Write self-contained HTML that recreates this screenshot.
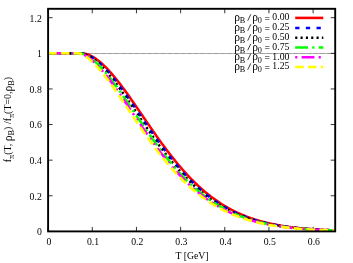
<!DOCTYPE html>
<html><head><meta charset="utf-8"><title>plot</title>
<style>
html,body{margin:0;padding:0;background:#fff;}
body{width:353px;height:263px;overflow:hidden;position:relative;font-family:"Liberation Serif",serif;}
svg{position:absolute;left:0;top:0;display:block;}
</style></head><body>
<svg width="353" height="263" viewBox="0 0 353 263">
<rect x="0" y="0" width="353" height="263" fill="#ffffff"/>
<line x1="48.1" y1="53.5" x2="335.2" y2="53.5" stroke="#bdbdbd" stroke-width="1"/>
<line x1="48.1" y1="53.5" x2="335.2" y2="53.5" stroke="#9e9e9e" stroke-width="1" stroke-dasharray="5.43 1.2" stroke-dashoffset="0.4"/>
<path d="M48.10,231.4 v-4.5 M48.10,8.8 v4.5 M92.27,231.4 v-4.5 M92.27,8.8 v4.5 M136.44,231.4 v-4.5 M136.44,8.8 v4.5 M180.61,231.4 v-4.5 M180.61,8.8 v4.5 M224.78,231.4 v-4.5 M224.78,8.8 v4.5 M268.95,231.4 v-4.5 M268.95,8.8 v4.5 M313.12,231.4 v-4.5 M313.12,8.8 v4.5 M48.1,231.40 h4.5 M335.2,231.40 h-4.5 M48.1,195.78 h4.5 M335.2,195.78 h-4.5 M48.1,160.17 h4.5 M335.2,160.17 h-4.5 M48.1,124.55 h4.5 M335.2,124.55 h-4.5 M48.1,88.94 h4.5 M335.2,88.94 h-4.5 M48.1,53.32 h4.5 M335.2,53.32 h-4.5 M48.1,17.70 h4.5 M335.2,17.70 h-4.5" stroke="#000" stroke-width="0.8" fill="none"/>
<path d="M48.10,53.32 L48.82,53.32 L49.54,53.32 L50.26,53.32 L50.98,53.32 L51.70,53.32 L52.42,53.32 L53.14,53.32 L53.86,53.32 L54.58,53.32 L55.30,53.32 L56.02,53.32 L56.73,53.32 L57.45,53.32 L58.17,53.32 L58.89,53.32 L59.61,53.32 L60.33,53.32 L61.05,53.32 L61.77,53.32 L62.49,53.32 L63.21,53.32 L63.93,53.32 L64.65,53.32 L65.37,53.32 L66.09,53.32 L66.81,53.32 L67.53,53.32 L68.25,53.32 L68.97,53.32 L69.69,53.32 L70.41,53.32 L71.13,53.32 L71.85,53.32 L72.56,53.32 L73.28,53.32 L74.00,53.32 L74.72,53.32 L75.44,53.32 L76.16,53.32 L76.88,53.32 L77.60,53.32 L78.32,53.32 L79.04,53.32 L79.76,53.32 L80.48,53.32 L81.20,53.32 L81.92,53.32 L82.64,53.36 L83.36,53.43 L84.08,53.54 L84.80,53.68 L85.52,53.84 L86.24,54.03 L86.96,54.25 L87.68,54.49 L88.39,54.76 L89.11,55.05 L89.83,55.36 L90.55,55.70 L91.27,56.06 L91.99,56.44 L92.71,56.84 L93.43,57.26 L94.15,57.70 L94.87,58.17 L95.59,58.65 L96.31,59.15 L97.03,59.67 L97.75,60.21 L98.47,60.76 L99.19,61.34 L99.91,61.93 L100.63,62.53 L101.35,63.16 L102.07,63.80 L102.79,64.45 L103.51,65.13 L104.22,65.81 L104.94,66.51 L105.66,67.23 L106.38,67.96 L107.10,68.70 L107.82,69.46 L108.54,70.23 L109.26,71.01 L109.98,71.81 L110.70,72.62 L111.42,73.43 L112.14,74.26 L112.86,75.11 L113.58,75.96 L114.30,76.82 L115.02,77.70 L115.74,78.58 L116.46,79.47 L117.18,80.37 L117.90,81.28 L118.62,82.20 L119.34,83.13 L120.05,84.07 L120.77,85.01 L121.49,85.96 L122.21,86.92 L122.93,87.89 L123.65,88.86 L124.37,89.84 L125.09,90.82 L125.81,91.82 L126.53,92.81 L127.25,93.81 L127.97,94.82 L128.69,95.83 L129.41,96.84 L130.13,97.86 L130.85,98.89 L131.57,99.92 L132.29,100.95 L133.01,101.98 L133.73,103.02 L134.45,104.06 L135.17,105.10 L135.88,106.14 L136.60,107.19 L137.32,108.23 L138.04,109.28 L138.76,110.33 L139.48,111.38 L140.20,112.44 L140.92,113.49 L141.64,114.54 L142.36,115.59 L143.08,116.65 L143.80,117.70 L144.52,118.75 L145.24,119.80 L145.96,120.85 L146.68,121.90 L147.40,122.95 L148.12,124.00 L148.84,125.04 L149.56,126.09 L150.28,127.13 L151.00,128.17 L151.72,129.21 L152.43,130.24 L153.15,131.27 L153.87,132.30 L154.59,133.33 L155.31,134.35 L156.03,135.37 L156.75,136.39 L157.47,137.40 L158.19,138.41 L158.91,139.41 L159.63,140.41 L160.35,141.41 L161.07,142.40 L161.79,143.39 L162.51,144.38 L163.23,145.35 L163.95,146.33 L164.67,147.30 L165.39,148.26 L166.11,149.22 L166.83,150.18 L167.55,151.13 L168.26,152.07 L168.98,153.01 L169.70,153.94 L170.42,154.87 L171.14,155.79 L171.86,156.71 L172.58,157.62 L173.30,158.53 L174.02,159.42 L174.74,160.32 L175.46,161.20 L176.18,162.08 L176.90,162.96 L177.62,163.82 L178.34,164.69 L179.06,165.54 L179.78,166.39 L180.50,167.23 L181.22,168.07 L181.94,168.90 L182.66,169.72 L183.38,170.53 L184.09,171.34 L184.81,172.14 L185.53,172.94 L186.25,173.73 L186.97,174.51 L187.69,175.28 L188.41,176.05 L189.13,176.81 L189.85,177.57 L190.57,178.32 L191.29,179.06 L192.01,179.79 L192.73,180.52 L193.45,181.24 L194.17,181.95 L194.89,182.65 L195.61,183.35 L196.33,184.04 L197.05,184.73 L197.77,185.41 L198.49,186.08 L199.21,186.74 L199.92,187.40 L200.64,188.05 L201.36,188.69 L202.08,189.33 L202.80,189.96 L203.52,190.58 L204.24,191.20 L204.96,191.81 L205.68,192.41 L206.40,193.00 L207.12,193.59 L207.84,194.17 L208.56,194.75 L209.28,195.32 L210.00,195.88 L210.72,196.44 L211.44,196.98 L212.16,197.53 L212.88,198.06 L213.60,198.59 L214.32,199.11 L215.04,199.63 L215.75,200.14 L216.47,200.64 L217.19,201.14 L217.91,201.63 L218.63,202.12 L219.35,202.59 L220.07,203.07 L220.79,203.53 L221.51,203.99 L222.23,204.45 L222.95,204.90 L223.67,205.34 L224.39,205.77 L225.11,206.20 L225.83,206.63 L226.55,207.05 L227.27,207.46 L227.99,207.87 L228.71,208.27 L229.43,208.67 L230.15,209.06 L230.87,209.44 L231.58,209.82 L232.30,210.20 L233.02,210.57 L233.74,210.93 L234.46,211.29 L235.18,211.64 L235.90,211.99 L236.62,212.33 L237.34,212.67 L238.06,213.01 L238.78,213.33 L239.50,213.66 L240.22,213.98 L240.94,214.29 L241.66,214.60 L242.38,214.90 L243.10,215.20 L243.82,215.50 L244.54,215.79 L245.26,216.07 L245.98,216.36 L246.70,216.63 L247.42,216.91 L248.13,217.17 L248.85,217.44 L249.57,217.70 L250.29,217.95 L251.01,218.21 L251.73,218.45 L252.45,218.70 L253.17,218.94 L253.89,219.17 L254.61,219.41 L255.33,219.63 L256.05,219.86 L256.77,220.08 L257.49,220.30 L258.21,220.51 L258.93,220.72 L259.65,220.93 L260.37,221.13 L261.09,221.33 L261.81,221.53 L262.53,221.72 L263.25,221.91 L263.96,222.10 L264.68,222.28 L265.40,222.46 L266.12,222.63 L266.84,222.81 L267.56,222.98 L268.28,223.15 L269.00,223.31 L269.72,223.47 L270.44,223.63 L271.16,223.79 L271.88,223.94 L272.60,224.09 L273.32,224.24 L274.04,224.39 L274.76,224.53 L275.48,224.67 L276.20,224.81 L276.92,224.94 L277.64,225.07 L278.36,225.20 L279.08,225.33 L279.79,225.46 L280.51,225.58 L281.23,225.70 L281.95,225.82 L282.67,225.94 L283.39,226.05 L284.11,226.16 L284.83,226.27 L285.55,226.38 L286.27,226.49 L286.99,226.59 L287.71,226.69 L288.43,226.79 L289.15,226.89 L289.87,226.98 L290.59,227.08 L291.31,227.17 L292.03,227.26 L292.75,227.35 L293.47,227.44 L294.19,227.52 L294.91,227.61 L295.62,227.69 L296.34,227.77 L297.06,227.85 L297.78,227.93 L298.50,228.00 L299.22,228.08 L299.94,228.15 L300.66,228.22 L301.38,228.29 L302.10,228.36 L302.82,228.42 L303.54,228.49 L304.26,228.55 L304.98,228.62 L305.70,228.68 L306.42,228.74 L307.14,228.80 L307.86,228.86 L308.58,228.91 L309.30,228.97 L310.02,229.02 L310.74,229.08 L311.45,229.13 L312.17,229.18 L312.89,229.23 L313.61,229.28 L314.33,229.33 L315.05,229.38 L315.77,229.42 L316.49,229.47 L317.21,229.51 L317.93,229.55 L318.65,229.60 L319.37,229.64 L320.09,229.68 L320.81,229.72 L321.53,229.76 L322.25,229.80 L322.97,229.83 L323.69,229.87 L324.41,229.90 L325.13,229.94 L325.85,229.97 L326.57,230.01 L327.28,230.04 L328.00,230.07 L328.72,230.10 L329.44,230.13 L330.16,230.16 L330.88,230.19 L331.60,230.22 L332.32,230.25 L333.04,230.28 L333.76,230.30 L334.48,230.33 L335.20,230.35" stroke="#ff0000" stroke-width="2.55" fill="none"/>
<path d="M48.10,53.32 L48.82,53.32 L49.54,53.32 L50.26,53.32 L50.98,53.32 L51.70,53.32 L52.42,53.32 L53.14,53.32 L53.86,53.32 L54.58,53.32 L55.30,53.32 L56.02,53.32 L56.73,53.32 L57.45,53.32 L58.17,53.32 L58.89,53.32 L59.61,53.32 L60.33,53.32 L61.05,53.32 L61.77,53.32 L62.49,53.32 L63.21,53.32 L63.93,53.32 L64.65,53.32 L65.37,53.32 L66.09,53.32 L66.81,53.32 L67.53,53.32 L68.25,53.32 L68.97,53.32 L69.69,53.32 L70.41,53.32 L71.13,53.32 L71.85,53.32 L72.56,53.32 L73.28,53.32 L74.00,53.32 L74.72,53.32 L75.44,53.32 L76.16,53.32 L76.88,53.32 L77.60,53.32 L78.32,53.32 L79.04,53.32 L79.76,53.32 L80.48,53.32 L81.20,53.32 L81.92,53.37 L82.64,53.45 L83.36,53.57 L84.08,53.73 L84.80,53.91 L85.52,54.12 L86.24,54.36 L86.96,54.63 L87.68,54.92 L88.39,55.24 L89.11,55.58 L89.83,55.94 L90.55,56.33 L91.27,56.74 L91.99,57.17 L92.71,57.63 L93.43,58.10 L94.15,58.60 L94.87,59.11 L95.59,59.64 L96.31,60.20 L97.03,60.77 L97.75,61.36 L98.47,61.96 L99.19,62.59 L99.91,63.23 L100.63,63.88 L101.35,64.56 L102.07,65.25 L102.79,65.95 L103.51,66.67 L104.22,67.40 L104.94,68.15 L105.66,68.91 L106.38,69.69 L107.10,70.47 L107.82,71.27 L108.54,72.09 L109.26,72.91 L109.98,73.75 L110.70,74.60 L111.42,75.45 L112.14,76.32 L112.86,77.20 L113.58,78.09 L114.30,78.99 L115.02,79.90 L115.74,80.82 L116.46,81.75 L117.18,82.68 L117.90,83.62 L118.62,84.57 L119.34,85.53 L120.05,86.50 L120.77,87.47 L121.49,88.45 L122.21,89.44 L122.93,90.43 L123.65,91.42 L124.37,92.43 L125.09,93.43 L125.81,94.45 L126.53,95.46 L127.25,96.49 L127.97,97.51 L128.69,98.54 L129.41,99.57 L130.13,100.61 L130.85,101.65 L131.57,102.69 L132.29,103.74 L133.01,104.78 L133.73,105.83 L134.45,106.88 L135.17,107.93 L135.88,108.99 L136.60,110.04 L137.32,111.10 L138.04,112.15 L138.76,113.21 L139.48,114.27 L140.20,115.32 L140.92,116.38 L141.64,117.44 L142.36,118.49 L143.08,119.55 L143.80,120.60 L144.52,121.65 L145.24,122.71 L145.96,123.76 L146.68,124.80 L147.40,125.85 L148.12,126.89 L148.84,127.94 L149.56,128.97 L150.28,130.01 L151.00,131.04 L151.72,132.08 L152.43,133.10 L153.15,134.13 L153.87,135.15 L154.59,136.17 L155.31,137.18 L156.03,138.19 L156.75,139.20 L157.47,140.20 L158.19,141.20 L158.91,142.19 L159.63,143.18 L160.35,144.16 L161.07,145.14 L161.79,146.12 L162.51,147.09 L163.23,148.06 L163.95,149.02 L164.67,149.97 L165.39,150.92 L166.11,151.86 L166.83,152.80 L167.55,153.74 L168.26,154.66 L168.98,155.59 L169.70,156.50 L170.42,157.41 L171.14,158.32 L171.86,159.21 L172.58,160.11 L173.30,160.99 L174.02,161.87 L174.74,162.75 L175.46,163.61 L176.18,164.47 L176.90,165.33 L177.62,166.18 L178.34,167.02 L179.06,167.85 L179.78,168.68 L180.50,169.50 L181.22,170.32 L181.94,171.13 L182.66,171.93 L183.38,172.72 L184.09,173.51 L184.81,174.29 L185.53,175.07 L186.25,175.83 L186.97,176.59 L187.69,177.35 L188.41,178.09 L189.13,178.83 L189.85,179.57 L190.57,180.29 L191.29,181.01 L192.01,181.72 L192.73,182.43 L193.45,183.13 L194.17,183.82 L194.89,184.50 L195.61,185.18 L196.33,185.85 L197.05,186.52 L197.77,187.17 L198.49,187.82 L199.21,188.47 L199.92,189.10 L200.64,189.73 L201.36,190.35 L202.08,190.97 L202.80,191.58 L203.52,192.18 L204.24,192.78 L204.96,193.36 L205.68,193.95 L206.40,194.52 L207.12,195.09 L207.84,195.65 L208.56,196.21 L209.28,196.76 L210.00,197.30 L210.72,197.84 L211.44,198.36 L212.16,198.89 L212.88,199.40 L213.60,199.91 L214.32,200.42 L215.04,200.92 L215.75,201.41 L216.47,201.89 L217.19,202.37 L217.91,202.84 L218.63,203.31 L219.35,203.77 L220.07,204.23 L220.79,204.68 L221.51,205.12 L222.23,205.56 L222.95,205.99 L223.67,206.41 L224.39,206.83 L225.11,207.25 L225.83,207.66 L226.55,208.06 L227.27,208.46 L227.99,208.85 L228.71,209.23 L229.43,209.61 L230.15,209.99 L230.87,210.36 L231.58,210.73 L232.30,211.09 L233.02,211.44 L233.74,211.79 L234.46,212.13 L235.18,212.47 L235.90,212.81 L236.62,213.14 L237.34,213.46 L238.06,213.78 L238.78,214.10 L239.50,214.41 L240.22,214.71 L240.94,215.01 L241.66,215.31 L242.38,215.60 L243.10,215.89 L243.82,216.17 L244.54,216.45 L245.26,216.73 L245.98,217.00 L246.70,217.26 L247.42,217.52 L248.13,217.78 L248.85,218.03 L249.57,218.28 L250.29,218.53 L251.01,218.77 L251.73,219.01 L252.45,219.24 L253.17,219.47 L253.89,219.70 L254.61,219.92 L255.33,220.14 L256.05,220.35 L256.77,220.57 L257.49,220.77 L258.21,220.98 L258.93,221.18 L259.65,221.38 L260.37,221.57 L261.09,221.76 L261.81,221.95 L262.53,222.14 L263.25,222.32 L263.96,222.50 L264.68,222.67 L265.40,222.84 L266.12,223.01 L266.84,223.18 L267.56,223.34 L268.28,223.50 L269.00,223.66 L269.72,223.82 L270.44,223.97 L271.16,224.12 L271.88,224.26 L272.60,224.41 L273.32,224.55 L274.04,224.69 L274.76,224.83 L275.48,224.96 L276.20,225.09 L276.92,225.22 L277.64,225.35 L278.36,225.47 L279.08,225.59 L279.79,225.71 L280.51,225.83 L281.23,225.95 L281.95,226.06 L282.67,226.17 L283.39,226.28 L284.11,226.39 L284.83,226.49 L285.55,226.60 L286.27,226.70 L286.99,226.80 L287.71,226.90 L288.43,226.99 L289.15,227.08 L289.87,227.18 L290.59,227.27 L291.31,227.35 L292.03,227.44 L292.75,227.53 L293.47,227.61 L294.19,227.69 L294.91,227.77 L295.62,227.85 L296.34,227.93 L297.06,228.00 L297.78,228.08 L298.50,228.15 L299.22,228.22 L299.94,228.29 L300.66,228.36 L301.38,228.42 L302.10,228.49 L302.82,228.55 L303.54,228.62 L304.26,228.68 L304.98,228.74 L305.70,228.80 L306.42,228.86 L307.14,228.91 L307.86,228.97 L308.58,229.02 L309.30,229.08 L310.02,229.13 L310.74,229.18 L311.45,229.23 L312.17,229.28 L312.89,229.33 L313.61,229.37 L314.33,229.42 L315.05,229.46 L315.77,229.51 L316.49,229.55 L317.21,229.59 L317.93,229.64 L318.65,229.68 L319.37,229.72 L320.09,229.75 L320.81,229.79 L321.53,229.83 L322.25,229.87 L322.97,229.90 L323.69,229.94 L324.41,229.97 L325.13,230.00 L325.85,230.04 L326.57,230.07 L327.28,230.10 L328.00,230.13 L328.72,230.16 L329.44,230.19 L330.16,230.22 L330.88,230.25 L331.60,230.27 L332.32,230.30 L333.04,230.33 L333.76,230.35 L334.48,230.38 L335.20,230.40" stroke="#0000ff" stroke-width="2.55" fill="none" stroke-dasharray="4.27 6.4"/>
<path d="M48.10,53.32 L48.82,53.32 L49.54,53.32 L50.26,53.32 L50.98,53.32 L51.70,53.32 L52.42,53.32 L53.14,53.32 L53.86,53.32 L54.58,53.32 L55.30,53.32 L56.02,53.32 L56.73,53.32 L57.45,53.32 L58.17,53.32 L58.89,53.32 L59.61,53.32 L60.33,53.32 L61.05,53.32 L61.77,53.32 L62.49,53.32 L63.21,53.32 L63.93,53.32 L64.65,53.32 L65.37,53.32 L66.09,53.32 L66.81,53.32 L67.53,53.32 L68.25,53.32 L68.97,53.32 L69.69,53.32 L70.41,53.32 L71.13,53.32 L71.85,53.32 L72.56,53.32 L73.28,53.32 L74.00,53.32 L74.72,53.32 L75.44,53.32 L76.16,53.32 L76.88,53.32 L77.60,53.32 L78.32,53.32 L79.04,53.32 L79.76,53.32 L80.48,53.32 L81.20,53.38 L81.92,53.48 L82.64,53.61 L83.36,53.78 L84.08,53.99 L84.80,54.23 L85.52,54.49 L86.24,54.78 L86.96,55.11 L87.68,55.45 L88.39,55.82 L89.11,56.22 L89.83,56.64 L90.55,57.08 L91.27,57.55 L91.99,58.03 L92.71,58.54 L93.43,59.07 L94.15,59.62 L94.87,60.19 L95.59,60.77 L96.31,61.38 L97.03,62.00 L97.75,62.64 L98.47,63.30 L99.19,63.98 L99.91,64.67 L100.63,65.37 L101.35,66.10 L102.07,66.83 L102.79,67.58 L103.51,68.35 L104.22,69.13 L104.94,69.92 L105.66,70.73 L106.38,71.55 L107.10,72.38 L107.82,73.22 L108.54,74.07 L109.26,74.94 L109.98,75.81 L110.70,76.70 L111.42,77.60 L112.14,78.50 L112.86,79.42 L113.58,80.34 L114.30,81.28 L115.02,82.22 L115.74,83.17 L116.46,84.13 L117.18,85.09 L117.90,86.07 L118.62,87.05 L119.34,88.03 L120.05,89.02 L120.77,90.02 L121.49,91.03 L122.21,92.04 L122.93,93.05 L123.65,94.07 L124.37,95.09 L125.09,96.12 L125.81,97.15 L126.53,98.19 L127.25,99.23 L127.97,100.27 L128.69,101.31 L129.41,102.36 L130.13,103.41 L130.85,104.46 L131.57,105.52 L132.29,106.57 L133.01,107.63 L133.73,108.69 L134.45,109.75 L135.17,110.81 L135.88,111.87 L136.60,112.93 L137.32,113.99 L138.04,115.05 L138.76,116.11 L139.48,117.17 L140.20,118.23 L140.92,119.29 L141.64,120.35 L142.36,121.40 L143.08,122.46 L143.80,123.51 L144.52,124.56 L145.24,125.61 L145.96,126.66 L146.68,127.70 L147.40,128.74 L148.12,129.78 L148.84,130.82 L149.56,131.85 L150.28,132.88 L151.00,133.91 L151.72,134.93 L152.43,135.95 L153.15,136.96 L153.87,137.97 L154.59,138.98 L155.31,139.98 L156.03,140.98 L156.75,141.98 L157.47,142.97 L158.19,143.95 L158.91,144.93 L159.63,145.91 L160.35,146.88 L161.07,147.85 L161.79,148.81 L162.51,149.76 L163.23,150.71 L163.95,151.66 L164.67,152.59 L165.39,153.53 L166.11,154.46 L166.83,155.38 L167.55,156.29 L168.26,157.20 L168.98,158.11 L169.70,159.01 L170.42,159.90 L171.14,160.78 L171.86,161.66 L172.58,162.54 L173.30,163.40 L174.02,164.26 L174.74,165.12 L175.46,165.96 L176.18,166.81 L176.90,167.64 L177.62,168.47 L178.34,169.29 L179.06,170.10 L179.78,170.91 L180.50,171.71 L181.22,172.51 L181.94,173.29 L182.66,174.07 L183.38,174.85 L184.09,175.61 L184.81,176.37 L185.53,177.13 L186.25,177.87 L186.97,178.61 L187.69,179.35 L188.41,180.07 L189.13,180.79 L189.85,181.50 L190.57,182.21 L191.29,182.90 L192.01,183.60 L192.73,184.28 L193.45,184.96 L194.17,185.63 L194.89,186.29 L195.61,186.95 L196.33,187.60 L197.05,188.24 L197.77,188.88 L198.49,189.51 L199.21,190.13 L199.92,190.74 L200.64,191.35 L201.36,191.95 L202.08,192.55 L202.80,193.14 L203.52,193.72 L204.24,194.30 L204.96,194.86 L205.68,195.43 L206.40,195.98 L207.12,196.53 L207.84,197.07 L208.56,197.61 L209.28,198.14 L210.00,198.66 L210.72,199.18 L211.44,199.69 L212.16,200.19 L212.88,200.69 L213.60,201.18 L214.32,201.67 L215.04,202.15 L215.75,202.62 L216.47,203.09 L217.19,203.55 L217.91,204.01 L218.63,204.46 L219.35,204.90 L220.07,205.34 L220.79,205.77 L221.51,206.20 L222.23,206.62 L222.95,207.03 L223.67,207.44 L224.39,207.85 L225.11,208.24 L225.83,208.64 L226.55,209.02 L227.27,209.41 L227.99,209.78 L228.71,210.15 L229.43,210.52 L230.15,210.88 L230.87,211.24 L231.58,211.59 L232.30,211.93 L233.02,212.27 L233.74,212.61 L234.46,212.94 L235.18,213.27 L235.90,213.59 L236.62,213.90 L237.34,214.22 L238.06,214.52 L238.78,214.82 L239.50,215.12 L240.22,215.42 L240.94,215.70 L241.66,215.99 L242.38,216.27 L243.10,216.54 L243.82,216.82 L244.54,217.08 L245.26,217.35 L245.98,217.61 L246.70,217.86 L247.42,218.11 L248.13,218.36 L248.85,218.60 L249.57,218.84 L250.29,219.08 L251.01,219.31 L251.73,219.53 L252.45,219.76 L253.17,219.98 L253.89,220.20 L254.61,220.41 L255.33,220.62 L256.05,220.83 L256.77,221.03 L257.49,221.23 L258.21,221.42 L258.93,221.62 L259.65,221.81 L260.37,221.99 L261.09,222.18 L261.81,222.36 L262.53,222.53 L263.25,222.71 L263.96,222.88 L264.68,223.04 L265.40,223.21 L266.12,223.37 L266.84,223.53 L267.56,223.69 L268.28,223.84 L269.00,223.99 L269.72,224.14 L270.44,224.29 L271.16,224.43 L271.88,224.57 L272.60,224.71 L273.32,224.84 L274.04,224.98 L274.76,225.11 L275.48,225.24 L276.20,225.36 L276.92,225.49 L277.64,225.61 L278.36,225.73 L279.08,225.84 L279.79,225.96 L280.51,226.07 L281.23,226.18 L281.95,226.29 L282.67,226.40 L283.39,226.50 L284.11,226.61 L284.83,226.71 L285.55,226.80 L286.27,226.90 L286.99,227.00 L287.71,227.09 L288.43,227.18 L289.15,227.27 L289.87,227.36 L290.59,227.45 L291.31,227.53 L292.03,227.61 L292.75,227.69 L293.47,227.77 L294.19,227.85 L294.91,227.93 L295.62,228.00 L296.34,228.08 L297.06,228.15 L297.78,228.22 L298.50,228.29 L299.22,228.36 L299.94,228.42 L300.66,228.49 L301.38,228.55 L302.10,228.62 L302.82,228.68 L303.54,228.74 L304.26,228.80 L304.98,228.85 L305.70,228.91 L306.42,228.97 L307.14,229.02 L307.86,229.07 L308.58,229.13 L309.30,229.18 L310.02,229.23 L310.74,229.28 L311.45,229.32 L312.17,229.37 L312.89,229.42 L313.61,229.46 L314.33,229.51 L315.05,229.55 L315.77,229.59 L316.49,229.63 L317.21,229.67 L317.93,229.71 L318.65,229.75 L319.37,229.79 L320.09,229.83 L320.81,229.86 L321.53,229.90 L322.25,229.93 L322.97,229.97 L323.69,230.00 L324.41,230.03 L325.13,230.07 L325.85,230.10 L326.57,230.13 L327.28,230.16 L328.00,230.19 L328.72,230.21 L329.44,230.24 L330.16,230.27 L330.88,230.30 L331.60,230.32 L332.32,230.35 L333.04,230.37 L333.76,230.40 L334.48,230.42 L335.20,230.45" stroke="#000000" stroke-width="2.55" fill="none" stroke-dasharray="2.13 3.2"/>
<path d="M48.10,53.32 L48.82,53.32 L49.54,53.32 L50.26,53.32 L50.98,53.32 L51.70,53.32 L52.42,53.32 L53.14,53.32 L53.86,53.32 L54.58,53.32 L55.30,53.32 L56.02,53.32 L56.73,53.32 L57.45,53.32 L58.17,53.32 L58.89,53.32 L59.61,53.32 L60.33,53.32 L61.05,53.32 L61.77,53.32 L62.49,53.32 L63.21,53.32 L63.93,53.32 L64.65,53.32 L65.37,53.32 L66.09,53.32 L66.81,53.32 L67.53,53.32 L68.25,53.32 L68.97,53.32 L69.69,53.32 L70.41,53.32 L71.13,53.32 L71.85,53.32 L72.56,53.32 L73.28,53.32 L74.00,53.32 L74.72,53.32 L75.44,53.32 L76.16,53.32 L76.88,53.32 L77.60,53.32 L78.32,53.32 L79.04,53.32 L79.76,53.33 L80.48,53.39 L81.20,53.50 L81.92,53.66 L82.64,53.86 L83.36,54.09 L84.08,54.35 L84.80,54.64 L85.52,54.97 L86.24,55.32 L86.96,55.70 L87.68,56.10 L88.39,56.53 L89.11,56.99 L89.83,57.46 L90.55,57.96 L91.27,58.48 L91.99,59.03 L92.71,59.59 L93.43,60.18 L94.15,60.78 L94.87,61.40 L95.59,62.04 L96.31,62.70 L97.03,63.38 L97.75,64.07 L98.47,64.78 L99.19,65.51 L99.91,66.25 L100.63,67.00 L101.35,67.77 L102.07,68.56 L102.79,69.36 L103.51,70.17 L104.22,70.99 L104.94,71.83 L105.66,72.68 L106.38,73.54 L107.10,74.41 L107.82,75.29 L108.54,76.19 L109.26,77.09 L109.98,78.00 L110.70,78.93 L111.42,79.86 L112.14,80.80 L112.86,81.75 L113.58,82.71 L114.30,83.67 L115.02,84.65 L115.74,85.63 L116.46,86.61 L117.18,87.61 L117.90,88.61 L118.62,89.61 L119.34,90.62 L120.05,91.64 L120.77,92.66 L121.49,93.69 L122.21,94.72 L122.93,95.75 L123.65,96.79 L124.37,97.83 L125.09,98.88 L125.81,99.93 L126.53,100.98 L127.25,102.03 L127.97,103.09 L128.69,104.14 L129.41,105.20 L130.13,106.26 L130.85,107.33 L131.57,108.39 L132.29,109.45 L133.01,110.52 L133.73,111.58 L134.45,112.65 L135.17,113.71 L135.88,114.78 L136.60,115.84 L137.32,116.91 L138.04,117.97 L138.76,119.03 L139.48,120.09 L140.20,121.15 L140.92,122.21 L141.64,123.27 L142.36,124.32 L143.08,125.37 L143.80,126.42 L144.52,127.47 L145.24,128.51 L145.96,129.55 L146.68,130.59 L147.40,131.62 L148.12,132.65 L148.84,133.68 L149.56,134.71 L150.28,135.73 L151.00,136.74 L151.72,137.76 L152.43,138.77 L153.15,139.77 L153.87,140.77 L154.59,141.76 L155.31,142.76 L156.03,143.74 L156.75,144.72 L157.47,145.70 L158.19,146.67 L158.91,147.64 L159.63,148.60 L160.35,149.55 L161.07,150.50 L161.79,151.45 L162.51,152.39 L163.23,153.32 L163.95,154.25 L164.67,155.17 L165.39,156.09 L166.11,157.00 L166.83,157.90 L167.55,158.80 L168.26,159.69 L168.98,160.57 L169.70,161.45 L170.42,162.33 L171.14,163.19 L171.86,164.05 L172.58,164.91 L173.30,165.75 L174.02,166.59 L174.74,167.43 L175.46,168.25 L176.18,169.08 L176.90,169.89 L177.62,170.70 L178.34,171.50 L179.06,172.29 L179.78,173.08 L180.50,173.86 L181.22,174.63 L181.94,175.40 L182.66,176.16 L183.38,176.91 L184.09,177.66 L184.81,178.39 L185.53,179.13 L186.25,179.85 L186.97,180.57 L187.69,181.28 L188.41,181.99 L189.13,182.68 L189.85,183.37 L190.57,184.06 L191.29,184.73 L192.01,185.40 L192.73,186.07 L193.45,186.72 L194.17,187.37 L194.89,188.02 L195.61,188.65 L196.33,189.28 L197.05,189.90 L197.77,190.52 L198.49,191.13 L199.21,191.73 L199.92,192.32 L200.64,192.91 L201.36,193.49 L202.08,194.07 L202.80,194.64 L203.52,195.20 L204.24,195.76 L204.96,196.31 L205.68,196.85 L206.40,197.38 L207.12,197.91 L207.84,198.44 L208.56,198.96 L209.28,199.47 L210.00,199.97 L210.72,200.47 L211.44,200.96 L212.16,201.45 L212.88,201.93 L213.60,202.40 L214.32,202.87 L215.04,203.33 L215.75,203.79 L216.47,204.24 L217.19,204.68 L217.91,205.12 L218.63,205.56 L219.35,205.98 L220.07,206.40 L220.79,206.82 L221.51,207.23 L222.23,207.63 L222.95,208.03 L223.67,208.43 L224.39,208.82 L225.11,209.20 L225.83,209.58 L226.55,209.95 L227.27,210.32 L227.99,210.68 L228.71,211.03 L229.43,211.39 L230.15,211.73 L230.87,212.07 L231.58,212.41 L232.30,212.74 L233.02,213.07 L233.74,213.39 L234.46,213.71 L235.18,214.02 L235.90,214.33 L236.62,214.64 L237.34,214.93 L238.06,215.23 L238.78,215.52 L239.50,215.81 L240.22,216.09 L240.94,216.36 L241.66,216.64 L242.38,216.91 L243.10,217.17 L243.82,217.43 L244.54,217.69 L245.26,217.94 L245.98,218.19 L246.70,218.43 L247.42,218.67 L248.13,218.91 L248.85,219.14 L249.57,219.37 L250.29,219.60 L251.01,219.82 L251.73,220.04 L252.45,220.25 L253.17,220.46 L253.89,220.67 L254.61,220.88 L255.33,221.08 L256.05,221.27 L256.77,221.47 L257.49,221.66 L258.21,221.85 L258.93,222.03 L259.65,222.21 L260.37,222.39 L261.09,222.57 L261.81,222.74 L262.53,222.91 L263.25,223.08 L263.96,223.24 L264.68,223.40 L265.40,223.56 L266.12,223.71 L266.84,223.87 L267.56,224.02 L268.28,224.16 L269.00,224.31 L269.72,224.45 L270.44,224.59 L271.16,224.73 L271.88,224.86 L272.60,225.00 L273.32,225.13 L274.04,225.25 L274.76,225.38 L275.48,225.50 L276.20,225.62 L276.92,225.74 L277.64,225.86 L278.36,225.97 L279.08,226.08 L279.79,226.19 L280.51,226.30 L281.23,226.41 L281.95,226.51 L282.67,226.61 L283.39,226.71 L284.11,226.81 L284.83,226.91 L285.55,227.00 L286.27,227.09 L286.99,227.19 L287.71,227.28 L288.43,227.36 L289.15,227.45 L289.87,227.53 L290.59,227.62 L291.31,227.70 L292.03,227.78 L292.75,227.85 L293.47,227.93 L294.19,228.01 L294.91,228.08 L295.62,228.15 L296.34,228.22 L297.06,228.29 L297.78,228.36 L298.50,228.42 L299.22,228.49 L299.94,228.55 L300.66,228.62 L301.38,228.68 L302.10,228.74 L302.82,228.80 L303.54,228.85 L304.26,228.91 L304.98,228.97 L305.70,229.02 L306.42,229.07 L307.14,229.12 L307.86,229.18 L308.58,229.23 L309.30,229.27 L310.02,229.32 L310.74,229.37 L311.45,229.42 L312.17,229.46 L312.89,229.50 L313.61,229.55 L314.33,229.59 L315.05,229.63 L315.77,229.67 L316.49,229.71 L317.21,229.75 L317.93,229.79 L318.65,229.82 L319.37,229.86 L320.09,229.90 L320.81,229.93 L321.53,229.97 L322.25,230.00 L322.97,230.03 L323.69,230.06 L324.41,230.09 L325.13,230.12 L325.85,230.15 L326.57,230.18 L327.28,230.21 L328.00,230.24 L328.72,230.27 L329.44,230.29 L330.16,230.32 L330.88,230.35 L331.60,230.37 L332.32,230.40 L333.04,230.42 L333.76,230.44 L334.48,230.47 L335.20,230.49" stroke="#00ff00" stroke-width="2.55" fill="none" stroke-dasharray="12.8 4.27 2.13 4.27"/>
<path d="M48.10,53.32 L48.82,53.32 L49.54,53.32 L50.26,53.32 L50.98,53.32 L51.70,53.32 L52.42,53.32 L53.14,53.32 L53.86,53.32 L54.58,53.32 L55.30,53.32 L56.02,53.32 L56.73,53.32 L57.45,53.32 L58.17,53.32 L58.89,53.32 L59.61,53.32 L60.33,53.32 L61.05,53.32 L61.77,53.32 L62.49,53.32 L63.21,53.32 L63.93,53.32 L64.65,53.32 L65.37,53.32 L66.09,53.32 L66.81,53.32 L67.53,53.32 L68.25,53.32 L68.97,53.32 L69.69,53.32 L70.41,53.32 L71.13,53.32 L71.85,53.32 L72.56,53.32 L73.28,53.32 L74.00,53.32 L74.72,53.32 L75.44,53.32 L76.16,53.32 L76.88,53.32 L77.60,53.32 L78.32,53.32 L79.04,53.33 L79.76,53.40 L80.48,53.54 L81.20,53.72 L81.92,53.94 L82.64,54.20 L83.36,54.49 L84.08,54.82 L84.80,55.18 L85.52,55.56 L86.24,55.98 L86.96,56.42 L87.68,56.88 L88.39,57.37 L89.11,57.89 L89.83,58.42 L90.55,58.98 L91.27,59.56 L91.99,60.17 L92.71,60.79 L93.43,61.43 L94.15,62.09 L94.87,62.76 L95.59,63.46 L96.31,64.17 L97.03,64.90 L97.75,65.64 L98.47,66.41 L99.19,67.18 L99.91,67.97 L100.63,68.77 L101.35,69.59 L102.07,70.42 L102.79,71.27 L103.51,72.12 L104.22,72.99 L104.94,73.87 L105.66,74.76 L106.38,75.66 L107.10,76.57 L107.82,77.49 L108.54,78.42 L109.26,79.36 L109.98,80.31 L110.70,81.27 L111.42,82.24 L112.14,83.21 L112.86,84.19 L113.58,85.18 L114.30,86.17 L115.02,87.17 L115.74,88.18 L116.46,89.19 L117.18,90.21 L117.90,91.24 L118.62,92.26 L119.34,93.30 L120.05,94.34 L120.77,95.38 L121.49,96.42 L122.21,97.47 L122.93,98.52 L123.65,99.58 L124.37,100.63 L125.09,101.69 L125.81,102.76 L126.53,103.82 L127.25,104.88 L127.97,105.95 L128.69,107.02 L129.41,108.09 L130.13,109.16 L130.85,110.23 L131.57,111.30 L132.29,112.37 L133.01,113.44 L133.73,114.50 L134.45,115.57 L135.17,116.64 L135.88,117.71 L136.60,118.77 L137.32,119.84 L138.04,120.90 L138.76,121.96 L139.48,123.02 L140.20,124.07 L140.92,125.13 L141.64,126.18 L142.36,127.23 L143.08,128.28 L143.80,129.32 L144.52,130.36 L145.24,131.40 L145.96,132.43 L146.68,133.46 L147.40,134.48 L148.12,135.51 L148.84,136.53 L149.56,137.54 L150.28,138.55 L151.00,139.55 L151.72,140.56 L152.43,141.55 L153.15,142.54 L153.87,143.53 L154.59,144.51 L155.31,145.49 L156.03,146.46 L156.75,147.43 L157.47,148.39 L158.19,149.34 L158.91,150.30 L159.63,151.24 L160.35,152.18 L161.07,153.11 L161.79,154.04 L162.51,154.96 L163.23,155.88 L163.95,156.79 L164.67,157.69 L165.39,158.59 L166.11,159.48 L166.83,160.37 L167.55,161.24 L168.26,162.12 L168.98,162.98 L169.70,163.84 L170.42,164.70 L171.14,165.54 L171.86,166.38 L172.58,167.22 L173.30,168.04 L174.02,168.86 L174.74,169.68 L175.46,170.48 L176.18,171.28 L176.90,172.08 L177.62,172.86 L178.34,173.64 L179.06,174.41 L179.78,175.18 L180.50,175.94 L181.22,176.69 L181.94,177.44 L182.66,178.18 L183.38,178.91 L184.09,179.63 L184.81,180.35 L185.53,181.06 L186.25,181.76 L186.97,182.46 L187.69,183.15 L188.41,183.84 L189.13,184.51 L189.85,185.18 L190.57,185.84 L191.29,186.50 L192.01,187.15 L192.73,187.79 L193.45,188.43 L194.17,189.06 L194.89,189.68 L195.61,190.29 L196.33,190.90 L197.05,191.50 L197.77,192.10 L198.49,192.69 L199.21,193.27 L199.92,193.85 L200.64,194.41 L201.36,194.98 L202.08,195.53 L202.80,196.08 L203.52,196.62 L204.24,197.16 L204.96,197.69 L205.68,198.22 L206.40,198.73 L207.12,199.24 L207.84,199.75 L208.56,200.25 L209.28,200.74 L210.00,201.23 L210.72,201.71 L211.44,202.18 L212.16,202.65 L212.88,203.11 L213.60,203.57 L214.32,204.02 L215.04,204.47 L215.75,204.91 L216.47,205.34 L217.19,205.77 L217.91,206.19 L218.63,206.61 L219.35,207.02 L220.07,207.42 L220.79,207.82 L221.51,208.22 L222.23,208.61 L222.95,208.99 L223.67,209.37 L224.39,209.74 L225.11,210.11 L225.83,210.47 L226.55,210.83 L227.27,211.19 L227.99,211.53 L228.71,211.88 L229.43,212.21 L230.15,212.55 L230.87,212.88 L231.58,213.20 L232.30,213.52 L233.02,213.83 L233.74,214.14 L234.46,214.45 L235.18,214.75 L235.90,215.04 L236.62,215.34 L237.34,215.62 L238.06,215.91 L238.78,216.18 L239.50,216.46 L240.22,216.73 L240.94,216.99 L241.66,217.26 L242.38,217.51 L243.10,217.77 L243.82,218.02 L244.54,218.26 L245.26,218.51 L245.98,218.74 L246.70,218.98 L247.42,219.21 L248.13,219.44 L248.85,219.66 L249.57,219.88 L250.29,220.10 L251.01,220.31 L251.73,220.52 L252.45,220.72 L253.17,220.93 L253.89,221.13 L254.61,221.32 L255.33,221.51 L256.05,221.70 L256.77,221.89 L257.49,222.07 L258.21,222.25 L258.93,222.43 L259.65,222.60 L260.37,222.78 L261.09,222.94 L261.81,223.11 L262.53,223.27 L263.25,223.43 L263.96,223.59 L264.68,223.74 L265.40,223.89 L266.12,224.04 L266.84,224.19 L267.56,224.33 L268.28,224.47 L269.00,224.61 L269.72,224.75 L270.44,224.88 L271.16,225.01 L271.88,225.14 L272.60,225.27 L273.32,225.39 L274.04,225.52 L274.76,225.64 L275.48,225.75 L276.20,225.87 L276.92,225.98 L277.64,226.09 L278.36,226.20 L279.08,226.31 L279.79,226.42 L280.51,226.52 L281.23,226.62 L281.95,226.72 L282.67,226.82 L283.39,226.91 L284.11,227.01 L284.83,227.10 L285.55,227.19 L286.27,227.28 L286.99,227.37 L287.71,227.45 L288.43,227.54 L289.15,227.62 L289.87,227.70 L290.59,227.78 L291.31,227.86 L292.03,227.93 L292.75,228.01 L293.47,228.08 L294.19,228.15 L294.91,228.22 L295.62,228.29 L296.34,228.36 L297.06,228.42 L297.78,228.49 L298.50,228.55 L299.22,228.62 L299.94,228.68 L300.66,228.74 L301.38,228.79 L302.10,228.85 L302.82,228.91 L303.54,228.96 L304.26,229.02 L304.98,229.07 L305.70,229.12 L306.42,229.17 L307.14,229.22 L307.86,229.27 L308.58,229.32 L309.30,229.37 L310.02,229.41 L310.74,229.46 L311.45,229.50 L312.17,229.54 L312.89,229.59 L313.61,229.63 L314.33,229.67 L315.05,229.71 L315.77,229.75 L316.49,229.78 L317.21,229.82 L317.93,229.86 L318.65,229.89 L319.37,229.93 L320.09,229.96 L320.81,230.00 L321.53,230.03 L322.25,230.06 L322.97,230.09 L323.69,230.12 L324.41,230.15 L325.13,230.18 L325.85,230.21 L326.57,230.24 L327.28,230.26 L328.00,230.29 L328.72,230.32 L329.44,230.34 L330.16,230.37 L330.88,230.39 L331.60,230.42 L332.32,230.44 L333.04,230.46 L333.76,230.49 L334.48,230.51 L335.20,230.53" stroke="#ff00ff" stroke-width="2.55" fill="none" stroke-dasharray="2.13 4.27 12.8 4.27 2.13 4.27"/>
<path d="M48.10,53.32 L48.82,53.32 L49.54,53.32 L50.26,53.32 L50.98,53.32 L51.70,53.32 L52.42,53.32 L53.14,53.32 L53.86,53.32 L54.58,53.32 L55.30,53.32 L56.02,53.32 L56.73,53.32 L57.45,53.32 L58.17,53.32 L58.89,53.32 L59.61,53.32 L60.33,53.32 L61.05,53.32 L61.77,53.32 L62.49,53.32 L63.21,53.32 L63.93,53.32 L64.65,53.32 L65.37,53.32 L66.09,53.32 L66.81,53.32 L67.53,53.32 L68.25,53.32 L68.97,53.32 L69.69,53.32 L70.41,53.32 L71.13,53.32 L71.85,53.32 L72.56,53.32 L73.28,53.32 L74.00,53.32 L74.72,53.32 L75.44,53.32 L76.16,53.32 L76.88,53.32 L77.60,53.32 L78.32,53.33 L79.04,53.42 L79.76,53.58 L80.48,53.79 L81.20,54.04 L81.92,54.33 L82.64,54.66 L83.36,55.02 L84.08,55.42 L84.80,55.84 L85.52,56.29 L86.24,56.77 L86.96,57.28 L87.68,57.81 L88.39,58.36 L89.11,58.94 L89.83,59.53 L90.55,60.15 L91.27,60.79 L91.99,61.45 L92.71,62.13 L93.43,62.83 L94.15,63.54 L94.87,64.28 L95.59,65.03 L96.31,65.79 L97.03,66.57 L97.75,67.37 L98.47,68.18 L99.19,69.00 L99.91,69.84 L100.63,70.69 L101.35,71.55 L102.07,72.43 L102.79,73.31 L103.51,74.21 L104.22,75.12 L104.94,76.04 L105.66,76.97 L106.38,77.91 L107.10,78.86 L107.82,79.82 L108.54,80.78 L109.26,81.76 L109.98,82.74 L110.70,83.73 L111.42,84.72 L112.14,85.72 L112.86,86.73 L113.58,87.75 L114.30,88.77 L115.02,89.80 L115.74,90.83 L116.46,91.86 L117.18,92.90 L117.90,93.95 L118.62,95.00 L119.34,96.05 L120.05,97.10 L120.77,98.16 L121.49,99.22 L122.21,100.29 L122.93,101.35 L123.65,102.42 L124.37,103.49 L125.09,104.56 L125.81,105.63 L126.53,106.71 L127.25,107.78 L127.97,108.85 L128.69,109.93 L129.41,111.00 L130.13,112.08 L130.85,113.15 L131.57,114.23 L132.29,115.30 L133.01,116.37 L133.73,117.44 L134.45,118.51 L135.17,119.58 L135.88,120.64 L136.60,121.71 L137.32,122.77 L138.04,123.83 L138.76,124.89 L139.48,125.94 L140.20,126.99 L140.92,128.04 L141.64,129.09 L142.36,130.13 L143.08,131.17 L143.80,132.20 L144.52,133.23 L145.24,134.26 L145.96,135.29 L146.68,136.31 L147.40,137.32 L148.12,138.33 L148.84,139.34 L149.56,140.34 L150.28,141.34 L151.00,142.33 L151.72,143.32 L152.43,144.30 L153.15,145.28 L153.87,146.25 L154.59,147.22 L155.31,148.18 L156.03,149.14 L156.75,150.09 L157.47,151.03 L158.19,151.97 L158.91,152.91 L159.63,153.83 L160.35,154.75 L161.07,155.67 L161.79,156.58 L162.51,157.48 L163.23,158.38 L163.95,159.27 L164.67,160.16 L165.39,161.04 L166.11,161.91 L166.83,162.77 L167.55,163.63 L168.26,164.49 L168.98,165.33 L169.70,166.17 L170.42,167.00 L171.14,167.83 L171.86,168.65 L172.58,169.46 L173.30,170.27 L174.02,171.07 L174.74,171.86 L175.46,172.65 L176.18,173.43 L176.90,174.20 L177.62,174.96 L178.34,175.72 L179.06,176.48 L179.78,177.22 L180.50,177.96 L181.22,178.69 L181.94,179.41 L182.66,180.13 L183.38,180.84 L184.09,181.54 L184.81,182.24 L185.53,182.93 L186.25,183.61 L186.97,184.29 L187.69,184.96 L188.41,185.62 L189.13,186.28 L189.85,186.93 L190.57,187.57 L191.29,188.20 L192.01,188.83 L192.73,189.45 L193.45,190.07 L194.17,190.68 L194.89,191.28 L195.61,191.88 L196.33,192.46 L197.05,193.05 L197.77,193.62 L198.49,194.19 L199.21,194.75 L199.92,195.31 L200.64,195.86 L201.36,196.40 L202.08,196.94 L202.80,197.47 L203.52,197.99 L204.24,198.51 L204.96,199.02 L205.68,199.53 L206.40,200.03 L207.12,200.52 L207.84,201.01 L208.56,201.49 L209.28,201.96 L210.00,202.43 L210.72,202.90 L211.44,203.35 L212.16,203.81 L212.88,204.25 L213.60,204.69 L214.32,205.13 L215.04,205.55 L215.75,205.98 L216.47,206.39 L217.19,206.81 L217.91,207.21 L218.63,207.61 L219.35,208.01 L220.07,208.40 L220.79,208.78 L221.51,209.16 L222.23,209.54 L222.95,209.91 L223.67,210.27 L224.39,210.63 L225.11,210.98 L225.83,211.33 L226.55,211.68 L227.27,212.02 L227.99,212.35 L228.71,212.68 L229.43,213.01 L230.15,213.33 L230.87,213.64 L231.58,213.95 L232.30,214.26 L233.02,214.56 L233.74,214.86 L234.46,215.15 L235.18,215.44 L235.90,215.72 L236.62,216.00 L237.34,216.28 L238.06,216.55 L238.78,216.82 L239.50,217.08 L240.22,217.34 L240.94,217.60 L241.66,217.85 L242.38,218.09 L243.10,218.34 L243.82,218.58 L244.54,218.81 L245.26,219.05 L245.98,219.27 L246.70,219.50 L247.42,219.72 L248.13,219.94 L248.85,220.15 L249.57,220.36 L250.29,220.57 L251.01,220.78 L251.73,220.98 L252.45,221.17 L253.17,221.37 L253.89,221.56 L254.61,221.75 L255.33,221.93 L256.05,222.11 L256.77,222.29 L257.49,222.47 L258.21,222.64 L258.93,222.81 L259.65,222.98 L260.37,223.14 L261.09,223.30 L261.81,223.46 L262.53,223.61 L263.25,223.77 L263.96,223.92 L264.68,224.07 L265.40,224.21 L266.12,224.35 L266.84,224.49 L267.56,224.63 L268.28,224.77 L269.00,224.90 L269.72,225.03 L270.44,225.16 L271.16,225.28 L271.88,225.41 L272.60,225.53 L273.32,225.65 L274.04,225.77 L274.76,225.88 L275.48,225.99 L276.20,226.10 L276.92,226.21 L277.64,226.32 L278.36,226.42 L279.08,226.53 L279.79,226.63 L280.51,226.73 L281.23,226.82 L281.95,226.92 L282.67,227.01 L283.39,227.11 L284.11,227.20 L284.83,227.28 L285.55,227.37 L286.27,227.46 L286.99,227.54 L287.71,227.62 L288.43,227.70 L289.15,227.78 L289.87,227.86 L290.59,227.93 L291.31,228.01 L292.03,228.08 L292.75,228.15 L293.47,228.22 L294.19,228.29 L294.91,228.36 L295.62,228.42 L296.34,228.49 L297.06,228.55 L297.78,228.61 L298.50,228.68 L299.22,228.74 L299.94,228.79 L300.66,228.85 L301.38,228.91 L302.10,228.96 L302.82,229.02 L303.54,229.07 L304.26,229.12 L304.98,229.17 L305.70,229.22 L306.42,229.27 L307.14,229.32 L307.86,229.36 L308.58,229.41 L309.30,229.46 L310.02,229.50 L310.74,229.54 L311.45,229.58 L312.17,229.63 L312.89,229.67 L313.61,229.71 L314.33,229.74 L315.05,229.78 L315.77,229.82 L316.49,229.86 L317.21,229.89 L317.93,229.93 L318.65,229.96 L319.37,229.99 L320.09,230.03 L320.81,230.06 L321.53,230.09 L322.25,230.12 L322.97,230.15 L323.69,230.18 L324.41,230.21 L325.13,230.23 L325.85,230.26 L326.57,230.29 L327.28,230.32 L328.00,230.34 L328.72,230.37 L329.44,230.39 L330.16,230.41 L330.88,230.44 L331.60,230.46 L332.32,230.48 L333.04,230.51 L333.76,230.53 L334.48,230.55 L335.20,230.57" stroke="#ffff00" stroke-width="2.55" fill="none" stroke-dasharray="8.53 4.27"/>
<rect x="48.1" y="8.8" width="287.10" height="222.60" fill="none" stroke="#000" stroke-width="1.9"/>
<line x1="295.2" y1="17.9" x2="323.3" y2="17.9" stroke="#ff0000" stroke-width="2.55"/>
<line x1="295.2" y1="27.9" x2="323.3" y2="27.9" stroke="#0000ff" stroke-width="2.55" stroke-dasharray="4.27 6.4"/>
<line x1="295.2" y1="37.8" x2="323.3" y2="37.8" stroke="#000000" stroke-width="2.55" stroke-dasharray="2.13 3.2"/>
<line x1="295.2" y1="47.4" x2="323.3" y2="47.4" stroke="#00ff00" stroke-width="2.55" stroke-dasharray="12.8 4.27 2.13 4.27"/>
<line x1="295.2" y1="57.2" x2="323.3" y2="57.2" stroke="#ff00ff" stroke-width="2.55" stroke-dasharray="2.13 4.27 12.8 4.27 2.13 4.27"/>
<line x1="295.2" y1="66.9" x2="323.3" y2="66.9" stroke="#ffff00" stroke-width="2.55" stroke-dasharray="8.53 4.27"/>
<g font-family="Liberation Serif, serif" font-size="9.75" fill="#000" transform="scale(1,1.05)" style="filter:grayscale(1)">
<text x="48.90" y="233.14" text-anchor="middle">0</text>
<text x="93.07" y="233.14" text-anchor="middle">0.1</text>
<text x="137.24" y="233.14" text-anchor="middle">0.2</text>
<text x="181.41" y="233.14" text-anchor="middle">0.3</text>
<text x="225.58" y="233.14" text-anchor="middle">0.4</text>
<text x="269.75" y="233.14" text-anchor="middle">0.5</text>
<text x="313.92" y="233.14" text-anchor="middle">0.6</text>
<text x="41.80" y="224.10" text-anchor="end">0</text>
<text x="41.80" y="190.18" text-anchor="end">0.2</text>
<text x="41.80" y="156.26" text-anchor="end">0.4</text>
<text x="41.80" y="122.34" text-anchor="end">0.6</text>
<text x="41.80" y="88.42" text-anchor="end">0.8</text>
<text x="41.80" y="54.50" text-anchor="end">1</text>
<text x="41.80" y="20.58" text-anchor="end">1.2</text>
<text x="192.00" y="246.67" text-anchor="middle">T [GeV]</text>
<text y="19.33"><tspan x="234.2" dy="0.86" font-size="11.50">ρ</tspan><tspan x="239.7" dy="2.10" font-size="8.19">B</tspan><tspan x="252.2" dy="-2.10" font-size="11.50">ρ</tspan><tspan x="257.7" dy="2.10" font-size="8.19">0</tspan><tspan x="264.4" dy="-1.71">=</tspan><tspan x="289.4" dy="-1.24" text-anchor="end">0.00</tspan></text>
<text y="28.86"><tspan x="234.2" dy="0.86" font-size="11.50">ρ</tspan><tspan x="239.7" dy="2.10" font-size="8.19">B</tspan><tspan x="252.2" dy="-2.10" font-size="11.50">ρ</tspan><tspan x="257.7" dy="2.10" font-size="8.19">0</tspan><tspan x="264.4" dy="-1.71">=</tspan><tspan x="289.4" dy="-1.24" text-anchor="end">0.25</tspan></text>
<text y="38.29"><tspan x="234.2" dy="0.86" font-size="11.50">ρ</tspan><tspan x="239.7" dy="2.10" font-size="8.19">B</tspan><tspan x="252.2" dy="-2.10" font-size="11.50">ρ</tspan><tspan x="257.7" dy="2.10" font-size="8.19">0</tspan><tspan x="264.4" dy="-1.71">=</tspan><tspan x="289.4" dy="-1.24" text-anchor="end">0.50</tspan></text>
<text y="47.43"><tspan x="234.2" dy="0.86" font-size="11.50">ρ</tspan><tspan x="239.7" dy="2.10" font-size="8.19">B</tspan><tspan x="252.2" dy="-2.10" font-size="11.50">ρ</tspan><tspan x="257.7" dy="2.10" font-size="8.19">0</tspan><tspan x="264.4" dy="-1.71">=</tspan><tspan x="289.4" dy="-1.24" text-anchor="end">0.75</tspan></text>
<text y="56.76"><tspan x="234.2" dy="0.86" font-size="11.50">ρ</tspan><tspan x="239.7" dy="2.10" font-size="8.19">B</tspan><tspan x="252.2" dy="-2.10" font-size="11.50">ρ</tspan><tspan x="257.7" dy="2.10" font-size="8.19">0</tspan><tspan x="264.4" dy="-1.71">=</tspan><tspan x="289.4" dy="-1.24" text-anchor="end">1.00</tspan></text>
<text y="66.00"><tspan x="234.2" dy="0.86" font-size="11.50">ρ</tspan><tspan x="239.7" dy="2.10" font-size="8.19">B</tspan><tspan x="252.2" dy="-2.10" font-size="11.50">ρ</tspan><tspan x="257.7" dy="2.10" font-size="8.19">0</tspan><tspan x="264.4" dy="-1.71">=</tspan><tspan x="289.4" dy="-1.24" text-anchor="end">1.25</tspan></text>
</g>
<path d="M247.7,20.80 L250.8,14.30 M247.7,30.80 L250.8,24.30 M247.7,40.70 L250.8,34.20 M247.7,50.30 L250.8,43.80 M247.7,60.10 L250.8,53.60 M247.7,69.80 L250.8,63.30" stroke="#000" stroke-width="0.75" fill="none"/>
<text style="filter:grayscale(1)" font-family="Liberation Serif, serif" font-size="9.75" fill="#000" text-anchor="middle" transform="translate(11.2,119.6) rotate(-90) scale(1.015,1)"><tspan>f</tspan><tspan dy="3.10" font-size="8.19">π</tspan><tspan dy="-3.10">(T, </tspan><tspan dy="0.90" font-size="11.50">ρ</tspan><tspan dy="2.20" font-size="8.19">B</tspan><tspan dy="-3.10">) /f</tspan><tspan dy="3.10" font-size="8.19">π</tspan><tspan dy="-3.10">(T=0,</tspan><tspan dy="0.90" font-size="11.50">ρ</tspan><tspan dy="2.20" font-size="8.19">B</tspan><tspan dy="-3.10">)</tspan></text>
</svg>
</body></html>
